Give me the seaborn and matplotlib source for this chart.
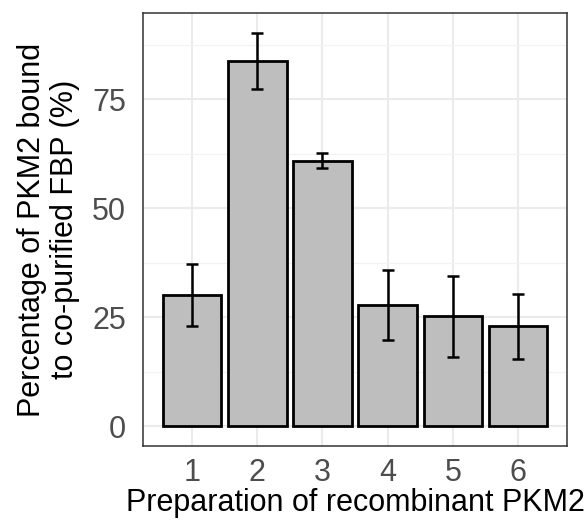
import matplotlib
matplotlib.use("Agg")
import matplotlib.pyplot as plt
from matplotlib.ticker import MultipleLocator
import seaborn as sns
import pandas as pd

preparations = ["1", "2", "3", "4", "5", "6"]
percent_bound = [30.1, 83.8, 60.9, 27.9, 25.2, 22.9]
sd = [7.2, 6.5, 1.7, 8.0, 9.2, 7.4]

df = pd.DataFrame({"prep": preparations, "pct": percent_bound, "sd": sd})

sns.set_style("white")
plt.rcParams['font.family'] = ['Liberation Sans', 'DejaVu Sans']

fig = plt.figure(figsize=(5.87, 5.24), dpi=100)
ax = fig.add_axes([0.2436, 0.149, 0.7224, 0.826])

sns.barplot(data=df, x="prep", y="pct", color="#BEBEBE", edgecolor="black",
            linewidth=2.0, width=0.9, saturation=1, errorbar=None, ax=ax, zorder=3)
ax.errorbar(x=range(len(df)), y=df["pct"], yerr=df["sd"], fmt="none",
            ecolor="black", elinewidth=1.8, capsize=4.6, capthick=1.8, zorder=4)

ax.set_xlim(-0.75, 5.75)
ax.set_ylim(-4.5, 94.8)
ax.set_yticks([0, 25, 50, 75])
ax.yaxis.set_minor_locator(MultipleLocator(12.5))

ax.grid(True, which="major", color="#EBEBEB", linewidth=1.5, zorder=0)
ax.grid(True, which="minor", axis="y", color="#F2F2F2", linewidth=0.9, zorder=0)
ax.set_axisbelow(True)

for s in ax.spines.values():
    s.set_color("#333333")
    s.set_linewidth(1.1)

ax.tick_params(axis="both", which="major", length=7, width=1.6, color="#333333",
               labelsize=22, labelcolor="#4D4D4D")
ax.tick_params(axis="x", pad=2)
ax.tick_params(axis="y", pad=5)
ax.tick_params(which="minor", length=0)

ax.set_xlabel("Preparation of recombinant PKM2", fontsize=22, color="black", labelpad=0)
ax.set_ylabel("Percentage of PKM2 bound\nto co-purified FBP (%)", fontsize=22,
              color="black", labelpad=9, linespacing=1.12)

fig.savefig("out.png", dpi=100)
